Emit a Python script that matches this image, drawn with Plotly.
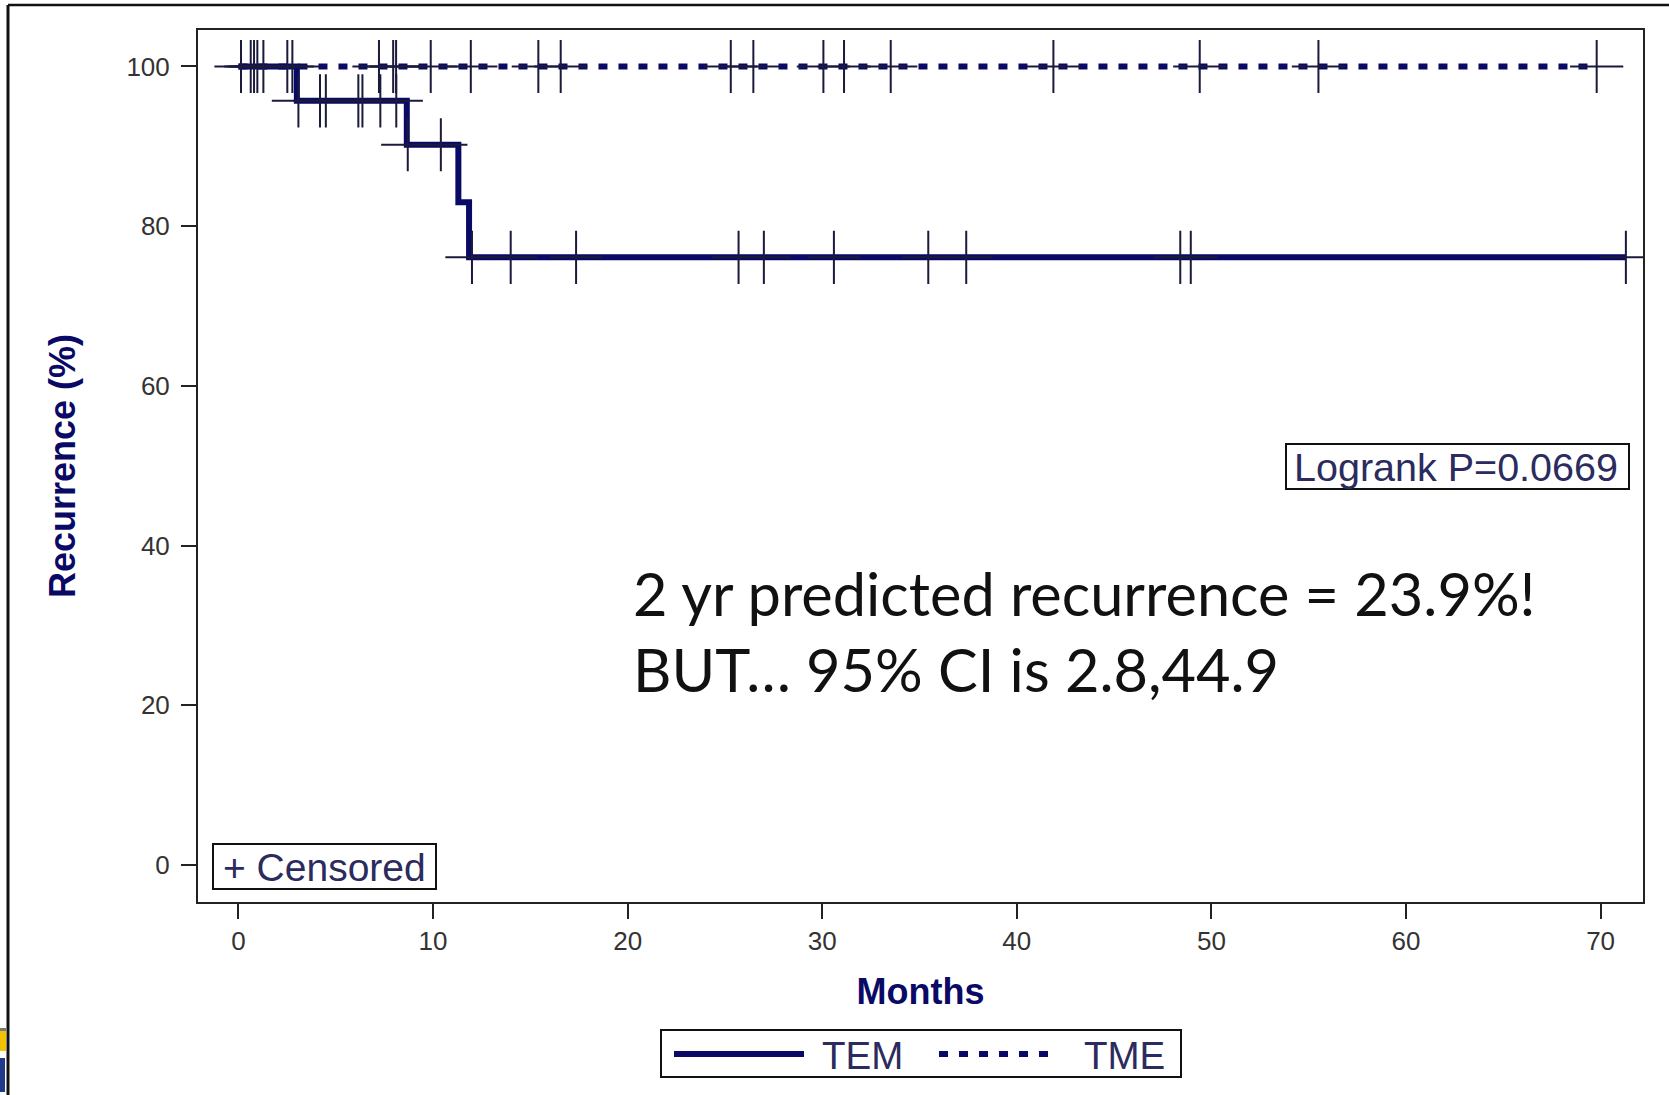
import plotly.graph_objects as go

# Kaplan-Meier step data (months, percent free of recurrence)
tem_event_months = [0, 3.0, 8.65, 11.3, 11.85, 71.3]
tem_pct = [100, 95.7, 90.2, 83.0, 76.1, 76.1]
tme_event_months = [0, 69.8]
tme_pct = [100, 100]

# Censored observations (months)
tem_censored = [3.08, 4.19, 4.49, 6.16, 6.37, 7.29, 8.11, 8.7, 10.4, 12.0,
                13.99, 17.35, 25.7, 27.0, 30.6, 35.45, 37.4, 48.4, 48.94, 71.3]
tme_censored = [0.13, 0.63, 0.8, 0.97, 1.28, 2.51, 2.77, 7.22, 7.95, 8.1,
                9.88, 11.94, 15.41, 16.56, 25.3, 26.46, 30.06, 31.12, 33.52,
                41.88, 49.4, 55.5, 69.8]

x_ticks = [0, 10, 20, 30, 40, 50, 60, 70]
y_ticks = [0, 20, 40, 60, 80, 100]

logrank_text = "Logrank P=0.0669"
note_lines = ["2 yr predicted recurrence = 23.9%!", "BUT\u2026 95% CI is 2.8,44.9"]
group_names = ["TEM", "TME"]


def level_at(t, times, pct):
    """Value of the step curve at time t."""
    val = pct[0]
    for tt, p in zip(times, pct):
        if tt <= t:
            val = p
    return val


W, H = 1669, 1095
L, R, T, B = 198, 26, 30, 193
PW, PH = W - L - R, H - T - B


def px(x):
    return (x - L) / PW


def py(y):
    return (H - B - y) / PH


NAVY = "#0a0a66"
MARK = "#1a1a3c"
TXT = "#2b2b5e"
DASH = "9px,11px"

fig = go.Figure()

fig.add_trace(go.Scatter(
    x=tme_event_months, y=tme_pct, mode="lines", line_shape="hv",
    line=dict(color=NAVY, width=6, dash=DASH), name=group_names[1],
    showlegend=False))
fig.add_trace(go.Scatter(
    x=tem_event_months, y=tem_pct, mode="lines", line_shape="hv",
    line=dict(color=NAVY, width=6), name=group_names[0], showlegend=False))

censor_marker = dict(symbol="cross-thin", size=38, line=dict(color=MARK, width=2))
fig.add_trace(go.Scatter(
    x=tme_censored,
    y=[level_at(t, tme_event_months, tme_pct) for t in tme_censored],
    mode="markers", marker=censor_marker, showlegend=False))
fig.add_trace(go.Scatter(
    x=tem_censored,
    y=[level_at(t, tem_event_months, tem_pct) for t in tem_censored],
    mode="markers", marker=censor_marker, showlegend=False))

axis_common = dict(
    showline=True, mirror=True, linecolor="#222", linewidth=2,
    ticks="outside", ticklen=15, tickwidth=2, tickcolor="#222",
    showgrid=False, zeroline=False,
    tickfont=dict(family="Liberation Sans", size=26, color="#333"),
)

fig.update_xaxes(
    range=[-2.08, 72.18], tickvals=x_ticks, ticklabelstandoff=0,
    title=dict(text="Months", standoff=24,
               font=dict(family="Liberation Sans", size=36, color=NAVY, weight="bold")),
    automargin=False, **axis_common)
fig.update_yaxes(
    range=[-4.63, 104.57], tickvals=y_ticks, ticklabelstandoff=6,
    title=dict(text="Recurrence (%)", standoff=40,
               font=dict(family="Liberation Sans", size=36, color=NAVY, weight="bold")),
    automargin=False, **axis_common)

shapes = []
annotations = []

# outer slide frame
shapes.append(dict(type="line", xref="paper", yref="paper",
                   x0=px(8), y0=py(1095), x1=px(8), y1=py(5),
                   line=dict(color="#111", width=3)))
shapes.append(dict(type="line", xref="paper", yref="paper",
                   x0=px(8), y0=py(5), x1=px(1669), y1=py(5),
                   line=dict(color="#111", width=2.5)))
# slide logo edge
shapes.append(dict(type="rect", xref="paper", yref="paper",
                   x0=px(0), x1=px(6), y0=py(1028), y1=py(1031),
                   fillcolor="#777", line=dict(width=0)))
shapes.append(dict(type="rect", xref="paper", yref="paper",
                   x0=px(0), x1=px(6), y0=py(1031), y1=py(1051),
                   fillcolor="#f2c200", line=dict(width=0)))
shapes.append(dict(type="rect", xref="paper", yref="paper",
                   x0=px(0), x1=px(5), y0=py(1058), y1=py(1092),
                   fillcolor="#1f3a8a", line=dict(width=0)))

# censored key box
shapes.append(dict(type="rect", xref="paper", yref="paper",
                   x0=px(213), x1=px(436), y0=py(844), y1=py(889),
                   line=dict(color="#111", width=2), fillcolor="white"))
annotations.append(dict(xref="paper", yref="paper", x=px(221), y=py(867),
                        xanchor="left", yanchor="middle", showarrow=False,
                        text="+ Censored",
                        font=dict(family="Liberation Sans", size=39, color=TXT)))

# logrank box
shapes.append(dict(type="rect", xref="paper", yref="paper",
                   x0=px(1286), x1=px(1629), y0=py(444), y1=py(489),
                   line=dict(color="#111", width=2), fillcolor="white"))
annotations.append(dict(xref="paper", yref="paper", x=px(1292), y=py(467),
                        xanchor="left", yanchor="middle", showarrow=False,
                        text=logrank_text,
                        font=dict(family="Liberation Sans", size=39.5, color=TXT)))

# note text
for i, line in enumerate(note_lines):
    annotations.append(dict(xref="paper", yref="paper", x=px(631), y=py(593 + 76 * i),
                            xanchor="left", yanchor="middle", showarrow=False,
                            text=line,
                            font=dict(family="Lato", size=59.5, color="#111")))

# group key below the axis
shapes.append(dict(type="rect", xref="paper", yref="paper",
                   x0=px(661), x1=px(1181), y0=py(1030), y1=py(1077),
                   line=dict(color="#111", width=2)))
shapes.append(dict(type="line", xref="paper", yref="paper",
                   x0=px(674), x1=px(804), y0=py(1054), y1=py(1054),
                   line=dict(color=NAVY, width=6)))
shapes.append(dict(type="line", xref="paper", yref="paper",
                   x0=px(939), x1=px(1059), y0=py(1054), y1=py(1054),
                   line=dict(color=NAVY, width=6, dash=DASH)))
for name, xl in zip(group_names, [820, 1082]):
    annotations.append(dict(xref="paper", yref="paper", x=px(xl), y=py(1055),
                            xanchor="left", yanchor="middle", showarrow=False,
                            text=name,
                            font=dict(family="Liberation Sans", size=38.5, color=TXT)))

fig.update_layout(
    width=W, height=H,
    margin=dict(l=L, r=R, t=T, b=B, autoexpand=False),
    paper_bgcolor="white", plot_bgcolor="white",
    shapes=shapes, annotations=annotations,
)

fig.write_html("out.html")
